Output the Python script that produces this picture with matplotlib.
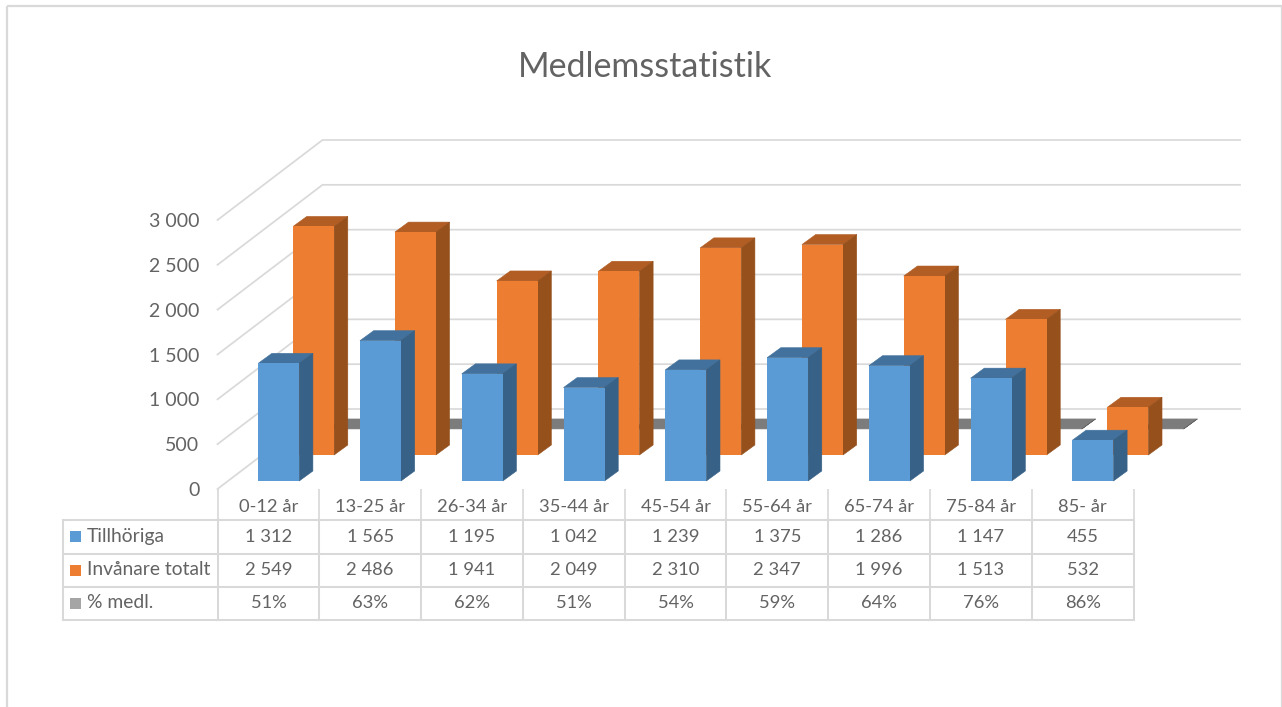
import matplotlib
matplotlib.use("Agg")
import matplotlib.pyplot as plt
from matplotlib.patches import Rectangle
from matplotlib.transforms import Affine2D, blended_transform_factory

# ---- data ----
categories = ["0-12 år", "13-25 år", "26-34 år", "35-44 år", "45-54 år",
              "55-64 år", "65-74 år", "75-84 år", "85- år"]
tillhoriga = [1312, 1565, 1195, 1042, 1239, 1375, 1286, 1147, 455]
invanare = [2549, 2486, 1941, 2049, 2310, 2347, 1996, 1513, 532]
procent = [51, 63, 62, 51, 54, 59, 64, 76, 86]
series_names = ["Tillhöriga", "Invånare totalt", "% medl."]
y_ticks = [0, 500, 1000, 1500, 2000, 2500, 3000]
title = "Medlemsstatistik"

def fmt(v):
    return f"{v:,}".replace(",", " ")

# ---- layout (pixels of the 1282x707 canvas) ----
W, H = 1282, 707
PX_L, PX_R, PX_FLOOR, PX_TOP = 217.5, 1133.5, 489, 220
TXT = "#636363"
GRID = "#D9D9D9"
FONT = "Lato"
plt.rcParams["font.family"] = [FONT, "DejaVu Sans"]
FS = 13.2      # table and axis text, points
LW = 1.25

fig = plt.figure(figsize=(W / 100, H / 100), dpi=100, facecolor="white")
ax = fig.add_axes([PX_L / W, 1 - PX_FLOOR / H, (PX_R - PX_L) / W, (PX_FLOOR - PX_TOP) / H])
ax.set_xlim(0, len(categories))
ax.set_ylim(0, 3000)
ax.patch.set_visible(False)
for s in ax.spines.values():
    s.set_visible(False)

UX = len(categories) / (PX_R - PX_L)   # data units per pixel
UY = 3000 / (PX_FLOOR - PX_TOP)

# y axis
ax.set_yticks(y_ticks)
ax.set_yticklabels([fmt(v) for v in y_ticks], fontsize=14, color=TXT)
ax.tick_params(axis="y", length=0, pad=13)

# x axis: category labels and boundary ticks reaching down to the table
ax.set_xticks([i + 0.5 for i in range(len(categories))])
ax.set_xticklabels(categories, fontsize=FS, color=TXT)
ax.tick_params(axis="x", which="major", length=0, pad=7)
ax.set_xticks(range(len(categories) + 1), minor=True)
ax.tick_params(axis="x", which="minor", length=23, width=LW, color=GRID)

# walls
WALL_DX, WALL_DY = 105 * UX, 80 * UY
x_end = (1240 - PX_L) * UX
for v in y_ticks:
    ax.plot([0, WALL_DX, x_end], [v, v + WALL_DY, v + WALL_DY],
            color=GRID, lw=LW, clip_on=False, zorder=1, solid_joinstyle="miter")

# 3-D columns
BAR_W = 41 * UX
DEPTH_X, DEPTH_Y = 13.7 * UX, 10 * UY
series = [
    ([p / 100 for p in procent], 80.5, 60, "#A5A5A5", "#7C7C7C", "#636363", 2),
    (invanare, 45.2, 34, "#ED7D31", "#B25D24", "#96501C", 3),
    (tillhoriga, 10.3, 8, "#5B9BD5", "#41719C", "#376186", 4),
]
for vals, off_px, base_px, front, top, side, z in series:
    xs = [i + 0.5 + off_px * UX for i in range(len(vals))]
    base = base_px * UY
    for x, v in zip(xs, vals):
        l, r = x - BAR_W / 2, x + BAR_W / 2
        yb, yt = base, base + v
        ax.fill([l, r, r + DEPTH_X, l + DEPTH_X],
                [yt, yt, yt + DEPTH_Y, yt + DEPTH_Y], facecolor=top, edgecolor=top,
                lw=0.4, zorder=z, clip_on=False)
        ax.fill([r, r + DEPTH_X, r + DEPTH_X, r],
                [yb, yb + DEPTH_Y, yt + DEPTH_Y, yt], facecolor=side, edgecolor=side,
                lw=0.4, zorder=z, clip_on=False)
    ax.bar(xs, vals, width=BAR_W, bottom=base, color=front, zorder=z + 0.5, clip_on=False)

# data table: x follows the category axis, y is in canvas pixels from the top
px = Affine2D().scale(1, -1).translate(0, H)
tf = blended_transform_factory(ax.transData, px)
row_y = [520, 553.5, 587, 620]
left_x = 62.5
n = len(categories)
for y in row_y:
    fig.add_artist(plt.Line2D([left_x, PX_R], [y, y], transform=px, color=GRID, lw=LW + 0.2))
for x in [left_x] + [PX_L + i * (PX_R - PX_L) / n for i in range(n + 1)]:
    fig.add_artist(plt.Line2D([x, x], [row_y[0], row_y[-1]], transform=px, color=GRID, lw=LW + 0.2))

rows = [[fmt(v) for v in tillhoriga], [fmt(v) for v in invanare], [f"{p}%" for p in procent]]
keys = ["#5B9BD5", "#ED7D31", "#A5A5A5"]
for r, (name, cells, key) in enumerate(zip(series_names, rows, keys)):
    yc = (row_y[r] + row_y[r + 1]) / 2
    fig.add_artist(Rectangle((70, yc - 5.5), 11, 11, transform=px, facecolor=key, lw=0))
    fig.text(87, yc - 0.5, name, transform=px, fontsize=13.9, color=TXT, ha="left", va="center")
    for i, c in enumerate(cells):
        ax.text(i + 0.5, yc, c, transform=tf, fontsize=FS, color=TXT, ha="center", va="center")

# title and outer frame
fig.text(645.5, 67, title, transform=px, fontsize=24.5, color=TXT, ha="center", va="center")
fig.add_artist(Rectangle((7, 6), 1274.5, 730, transform=px, fill=False, edgecolor=GRID, lw=1.6))

fig.savefig("out.png", dpi=100, facecolor="white")
